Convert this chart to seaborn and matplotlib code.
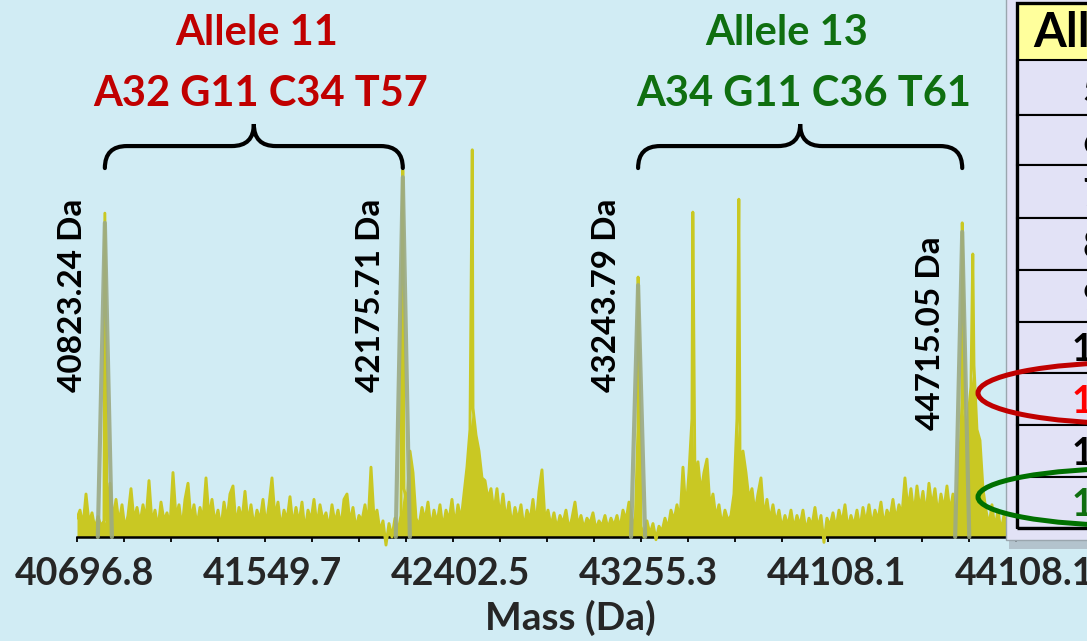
import numpy as np
import pandas as pd
import matplotlib
matplotlib.use("Agg")
import matplotlib.pyplot as plt
import matplotlib.transforms as mtransforms
from matplotlib.patches import Rectangle, Ellipse, PathPatch
from matplotlib.path import Path
import seaborn as sns

# ---------------------------------------------------------------------------
# Data
# ---------------------------------------------------------------------------
# Baseline/noise trace on a regular mass grid (arbitrary intensity units)
MASS_START, MASS_STOP = 40696.8, 44918.07
NOISE = [
    3.5, 5.0, 2.0, 8.0, 2.5, 4.5, 1.5, 3.8, 2.0, 3.0, 2.5, 10.0, 3.0, 7.0, 2.5, 6.0, 1.5, 4.0, 9.0, 3.0,
    5.5, 2.5, 6.0, 3.0, 10.5, 2.5, 5.0, 1.5, 6.5, 3.0, 4.5, 2.0, 12.0, 3.5, 6.0, 1.5, 7.0, 10.0, 3.0, 6.0,
    2.0, 5.5, 3.0, 11.0, 3.5, 7.0, 2.5, 5.0, 1.5, 6.5, 3.0, 8.0, 9.5, 2.0, 5.5, 3.0, 8.5, 2.5, 6.0, 1.8,
    5.0, 3.0, 7.0, 2.0, 6.0, 11.0, 3.5, 6.5, 1.5, 5.0, 3.0, 7.5, 2.0, 5.5, 2.5, 6.5, 1.0, 5.0, 3.0, 7.0,
    2.0, 6.0, 3.0, 4.5, 1.5, 6.0, 2.5, 5.0, 1.8, 7.0, 8.0, 2.5, 5.5, 1.5, 4.0, 3.0, 6.0, 2.0, 13.0, 3.5,
    5.0, 1.0, 3.0, -1.5, 2.5, 0.0, 3.5, 1.0, 4.0, 9.0, 6.0, 16.0, 12.0, 3.5, 2.0, 5.5, 3.0, 6.5, 1.5, 5.0,
    2.5, 6.0, 1.5, 5.0, 3.0, 7.0, 2.0, 6.0, 3.0, 8.0, 13.0, 20.0, 24.0, 19.0, 16.0, 11.0, 10.5, 7.0, 9.0, 4.5,
    9.0, 3.5, 8.0, 3.0, 6.5, 2.0, 5.5, 3.0, 6.0, 1.5, 5.0, 3.0, 7.0, 2.0, 8.5, 12.5, 3.0, 5.0, 2.0, 4.5,
    1.5, 4.0, 2.5, 5.0, 1.3, 3.5, 6.5, 2.0, 4.0, 1.5, 3.5, 2.5, 4.5, 1.3, 3.0, 2.0, 4.0, 1.5, 3.5, 2.0,
    4.0, 1.5, 5.0, 3.0, 6.5, 3.5, 1.0, 20.0, 2.0, 0.0, 3.0, 0.5, 2.5, -0.5, 2.0, 1.0, 3.5, 1.5, 5.0, 3.0,
    6.0, 3.0, 13.0, 4.5, 12.0, 22.0, 10.0, 14.0, 8.0, 12.0, 14.5, 5.5, 8.0, 3.5, 6.0, 2.0, 5.0, 3.0, 4.0, 8.0,
    22.0, 15.0, 16.0, 12.0, 7.0, 9.0, 4.5, 8.0, 11.0, 3.5, 7.0, 3.0, 6.0, 2.5, 5.0, 1.5, 4.0, 2.0, 5.0, 1.5,
    4.0, 2.0, 5.0, 1.0, 3.5, 2.0, 5.5, 1.5, 4.0, -1.0, 3.5, 2.0, 4.5, 1.5, 5.0, 2.5, 6.0, 1.5, 4.0, 2.0,
    5.0, 1.5, 5.5, 2.5, 6.0, 2.0, 5.0, 3.0, 6.5, 2.0, 5.0, 3.5, 7.0, 3.0, 6.0, 4.0, 11.0, 5.0, 9.0, 4.0,
    9.5, 5.0, 8.5, 4.0, 10.0, 5.5, 9.0, 4.0, 8.0, 5.0, 9.5, 4.5, 8.0, 3.0, 10.0, 25.0, 20.0, 22.0, 28.0, 32.0,
    20.0, 18.0, 9.0, 5.0, 2.0, 6.0, 1.5, 5.0, 1.0, 4.0, 1.5,
]

# Peak apexes of the raw spectrum
PEAK_MASS = [40823.24, 42175.71, 42491.0, 43243.79, 43492.2, 43701.0, 44715.05, 44763.0]
PEAK_HEIGHT = [60.3, 68.3, 72.1, 48.4, 60.5, 62.9, 58.5, 52.7]

# Assigned allele peaks (fitted traces)
ASSIGNED_MASS = [40823.24, 42175.71, 43243.79, 44715.05]
ASSIGNED_FIT = [58.5, 67.0, 46.9, 56.8]
ASSIGNED_TEXT = ["40823.24 Da", "42175.71 Da", "43243.79 Da", "44715.05 Da"]

TICK_LABELS = ["40696.8", "41549.7", "42402.5", "43255.3", "44108.1", "44108.1"]

ALLELE_NAMES = ["Allele 11", "Allele 13"]
ALLELE_COMPOSITION = ["A32 G11 C34 T57", "A34 G11 C36 T61"]

TABLE_HEADER = "Allele"
TABLE_ROWS = ["5", "6", "7", "8", "9", "10", "11", "12", "13"]

# ---------------------------------------------------------------------------
# Style
# ---------------------------------------------------------------------------
BG = "#d1ecf4"
YELLOW = "#c9c823"
FIT_GRAY = "#9caa84"
RED = "#c00000"
GREEN = "#0f6f10"
LAVENDER = "#e2e2f6"
HEADER_YELLOW = "#ffff9c"

sns.set_style("white")
plt.rcParams["font.family"] = ["Lato", "DejaVu Sans"]
plt.rcParams["font.weight"] = "bold"

W, H = 1087, 641
fig = plt.figure(figsize=(W / 100, H / 100), dpi=100)
fig.patch.set_facecolor(BG)


def fx(x):
    return x / W


def fy(y):
    return 1 - y / H


# Main spectrum axes
ax = fig.add_axes([fx(77), fy(548), 945.8 / W, 548 / H])
ax.set_facecolor("none")
ax.set_xlim(40696.8, 44990)
ax.set_ylim(-2.05, 100)

grid = np.linspace(MASS_START, MASS_STOP, len(NOISE))
spectrum = pd.concat(
    [pd.DataFrame({"mass": grid, "intensity": NOISE}),
     pd.DataFrame({"mass": PEAK_MASS, "intensity": PEAK_HEIGHT})],
    ignore_index=True,
).sort_values("mass")

# dense noise band under the trace
ax.fill_between(grid, 0, NOISE, color=YELLOW, lw=0, zorder=2.5)
sns.lineplot(data=spectrum, x="mass", y="intensity", color=YELLOW, lw=2.1,
             estimator=None, sort=True, ax=ax, zorder=3)

# Fitted traces of the assigned peaks
half_width = 32.0
fit_rows = []
for k, (m, h) in enumerate(zip(ASSIGNED_MASS, ASSIGNED_FIT)):
    fit_rows += [(k, m - half_width, 0.0), (k, m, h), (k, m + half_width, 0.0)]
fits = pd.DataFrame(fit_rows, columns=["peak", "mass", "intensity"])
sns.lineplot(data=fits, x="mass", y="intensity", units="peak", estimator=None,
             color=FIT_GRAY, lw=3.0, alpha=0.9, ax=ax, zorder=4)

# Axis styling
for side in ["left", "right", "top"]:
    ax.spines[side].set_visible(False)
ax.spines["bottom"].set_position(("data", 0))
ax.spines["bottom"].set_linewidth(1.8)
ax.spines["bottom"].set_color("black")
ax.spines["bottom"].set_zorder(2.8)
ax.set_yticks([])
ax.set_ylabel("")

step = 852.8
major = 40696.8 + step * np.arange(len(TICK_LABELS))
ax.set_xticks(major)
ax.set_xticklabels(TICK_LABELS)
ax.set_xticks(40696.8 + step / 4 * np.arange(21), minor=True)
ax.tick_params(axis="x", which="both", direction="out", length=3.5, width=1.3,
               color="black", bottom=True)
ax.tick_params(axis="x", which="major", labelsize=27, pad=11)
shift = mtransforms.ScaledTranslation(8 / 100, 0, fig.dpi_scale_trans)
for lbl in ax.get_xticklabels():
    lbl.set_transform(lbl.get_transform() + shift)
    lbl.set_fontweight("bold")

ax.set_xlabel("Mass (Da)", fontsize=28, fontweight="bold")
ax.xaxis.set_label_coords((570 - 77) / 945.8, (548 - 600) / 548)

# Mass labels of the assigned peaks
label_base = [27.0, 27.0, 27.0, 19.9]
for m, txt, yb in zip(ASSIGNED_MASS, ASSIGNED_TEXT, label_base):
    ax.annotate(txt, xy=(m, yb), xytext=(-32, 0), textcoords="offset pixels",
                rotation=90, ha="center", va="bottom", fontsize=24,
                fontweight="bold", color="black", zorder=6)


# Curly braces grouping each allele's peaks
def brace(ax, x1, x2, tip, bar, top, rx, **kw):
    xm = (x1 + x2) / 2
    verts = [(x1, tip), (x1, bar), (x1 + rx, bar),
             (xm - rx, bar), (xm, bar), (xm, top),
             (xm, bar), (xm + rx, bar),
             (x2 - rx, bar), (x2, bar), (x2, tip)]
    codes = [Path.MOVETO, Path.CURVE3, Path.CURVE3,
             Path.LINETO, Path.CURVE3, Path.CURVE3,
             Path.CURVE3, Path.CURVE3,
             Path.LINETO, Path.CURVE3, Path.CURVE3]
    ax.add_patch(PathPatch(Path(verts, codes), fill=False, clip_on=False, **kw))


brace(ax, ASSIGNED_MASS[0], ASSIGNED_MASS[1], 68.7, 72.8, 76.9, 100,
      lw=3.0, edgecolor="black", capstyle="round", zorder=5)
brace(ax, ASSIGNED_MASS[2], ASSIGNED_MASS[3], 68.7, 72.8, 76.9, 100,
      lw=3.0, edgecolor="black", capstyle="round", zorder=5)

# Allele captions
for name, comp, col, xn, xc in zip(ALLELE_NAMES, ALLELE_COMPOSITION, [RED, GREEN],
                                    [257, 787], [261, 804]):
    fig.text(fx(xn), fy(45), name, ha="center", va="baseline", fontsize=30,
             fontweight="bold", color=col)
    fig.text(fx(xc), fy(106), comp, ha="center", va="baseline", fontsize=30,
             fontweight="bold", color=col)

# Allele table panel on the right
fig.add_artist(Rectangle((fx(1009), fy(549)), fx(100), 12 / H, transform=fig.transFigure,
                         facecolor="#a9b6c0", edgecolor="none", alpha=0.75, zorder=1))
fig.add_artist(Rectangle((fx(1006), fy(540)), fx(100), 545 / H, transform=fig.transFigure,
                         facecolor=LAVENDER, edgecolor="#9aa6ae", lw=1.0, zorder=2))

row_edges = [3, 60, 115, 165, 218, 270, 322, 373, 425, 477, 528]
fig.add_artist(Rectangle((fx(1017), fy(row_edges[1])), fx(90), (row_edges[1] - row_edges[0]) / H,
                         transform=fig.transFigure, facecolor=HEADER_YELLOW,
                         edgecolor="black", lw=2.0, zorder=3))
fig.text(fx(1033), fy(47), TABLE_HEADER, ha="left", va="baseline", fontsize=34,
         fontweight="bold", color="black", zorder=4)
row_colors = {"11": "#ff0000", "13": GREEN}
for i, val in enumerate(TABLE_ROWS):
    top, bot = row_edges[i + 1], row_edges[i + 2]
    fig.add_artist(Rectangle((fx(1017), fy(bot)), fx(90), (bot - top) / H,
                             transform=fig.transFigure, facecolor=LAVENDER,
                             edgecolor="black", lw=1.5, zorder=3))
    fig.text(fx(1093), fy((top + bot) / 2), val, ha="center", va="center_baseline",
             fontsize=27, fontweight="bold", color=row_colors.get(val, "black"), zorder=4)
fig.add_artist(Rectangle((fx(1017), fy(row_edges[-1])), fx(90), (row_edges[-1] - row_edges[0]) / H,
                         transform=fig.transFigure, facecolor="none",
                         edgecolor="black", lw=2.4, zorder=4))

# Highlight rings around the detected alleles
for cy, b, col in [(393, 30.5, RED), (497, 28.5, "#007000")]:
    fig.add_artist(Ellipse((fx(1130), fy(cy)), 2 * 152 / W, 2 * b / H,
                           transform=fig.transFigure, fill=False, edgecolor=col,
                           lw=3.6, zorder=10))

fig.savefig("out.png", dpi=100, facecolor=BG)
